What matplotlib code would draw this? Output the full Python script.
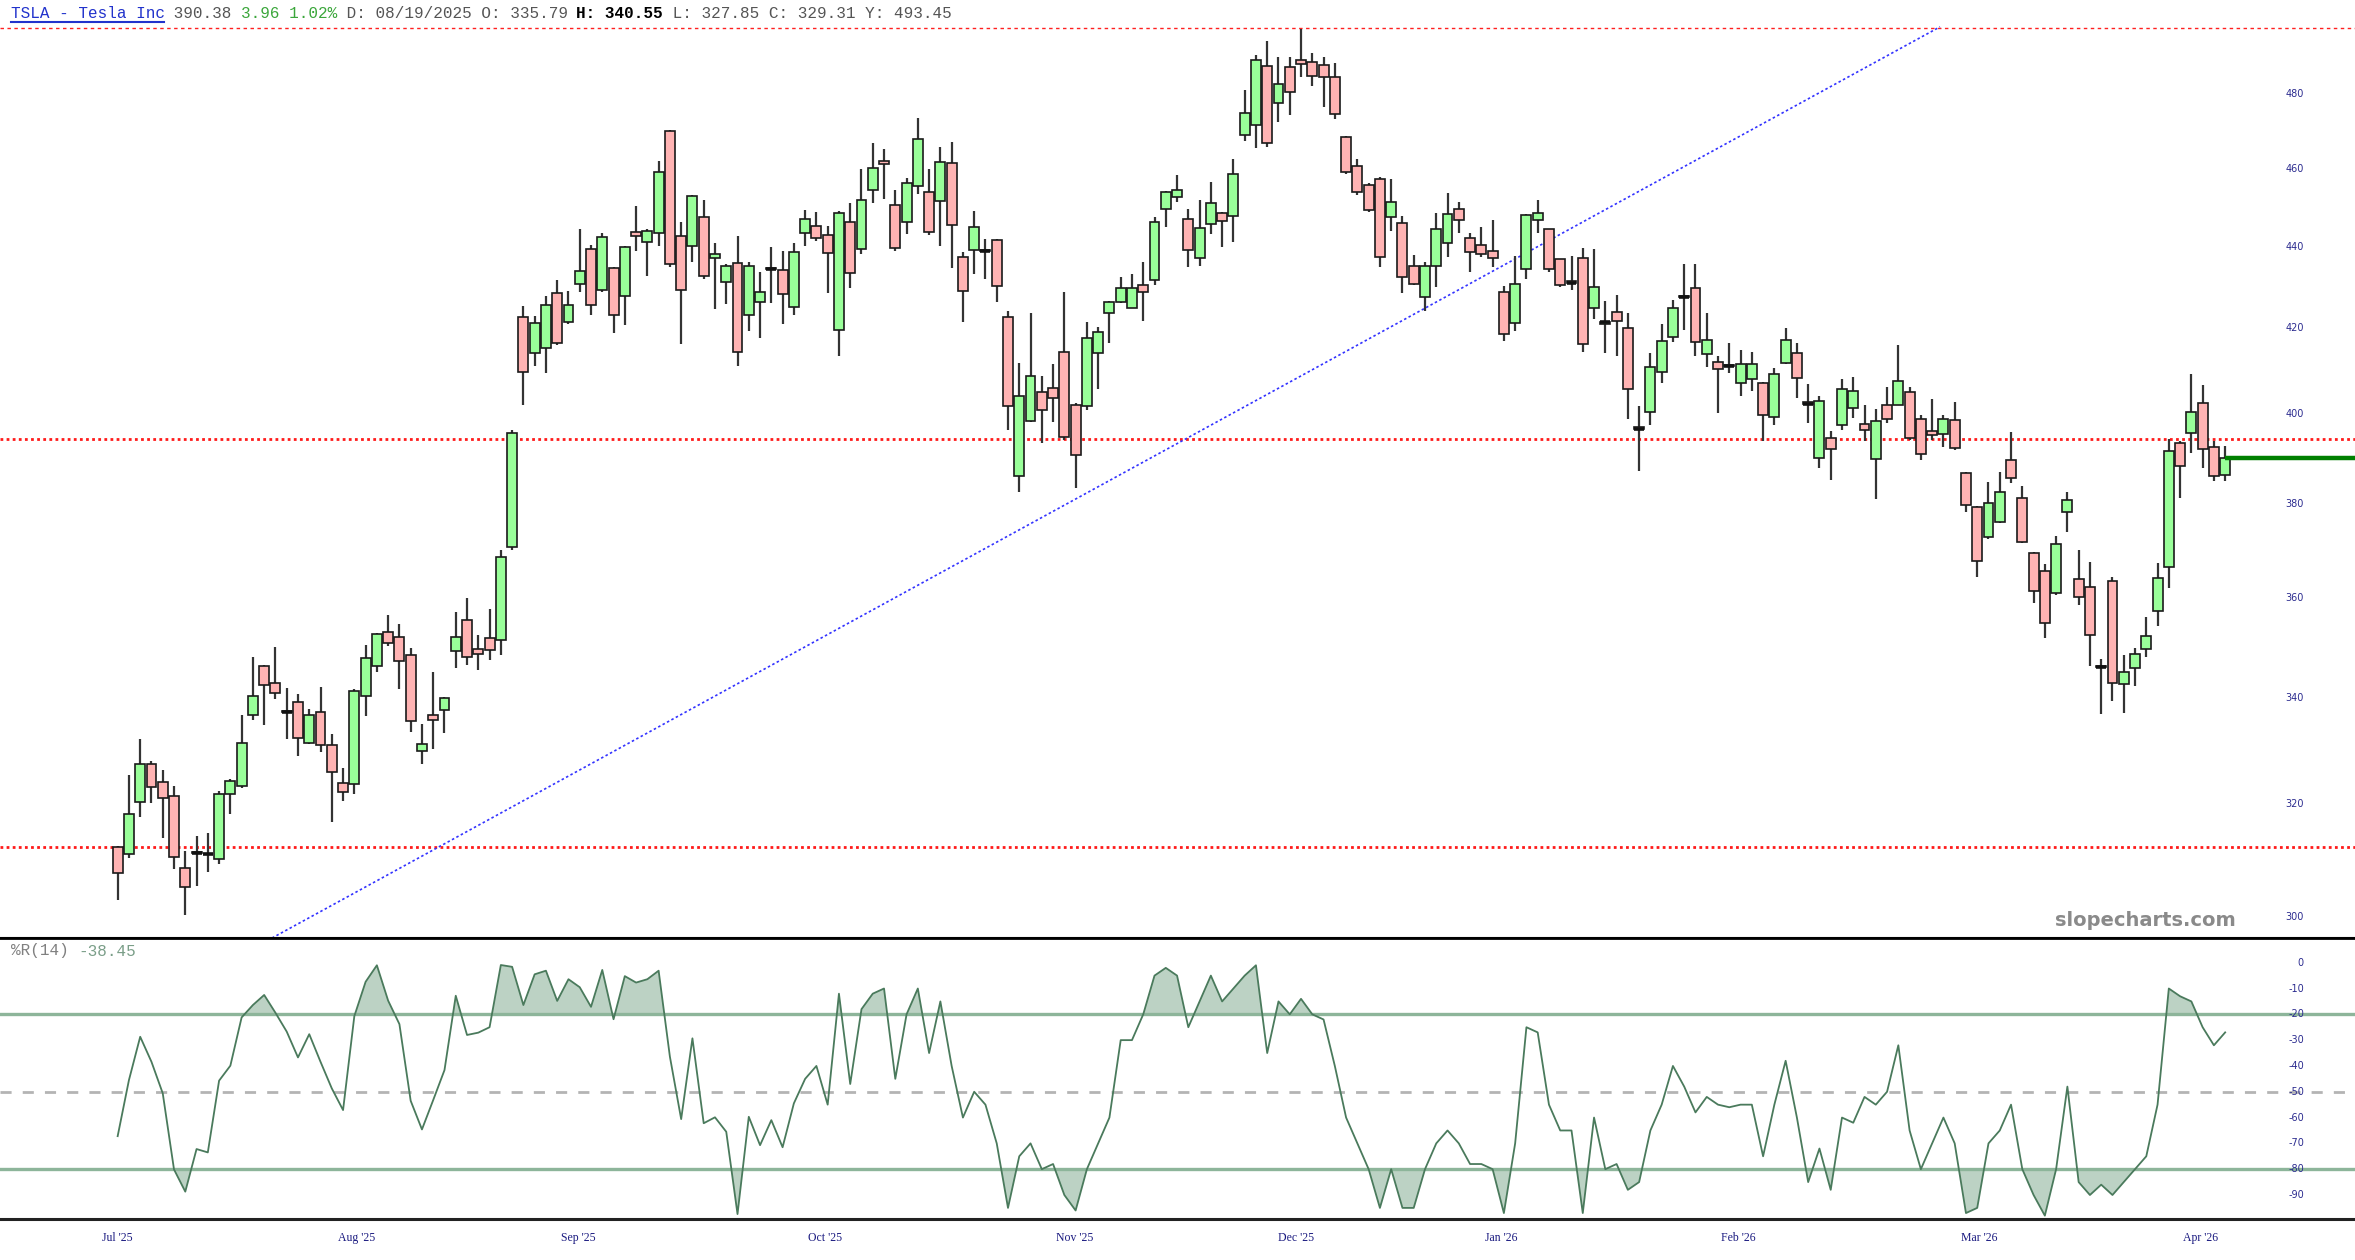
import matplotlib
matplotlib.use("Agg")
import matplotlib.pyplot as plt
from matplotlib.transforms import blended_transform_factory
from matplotlib.lines import Line2D
import numpy as np

# TSLA daily candles (first bar = 07/24/2025)
opens = [312.3, 311.1, 320.5, 327.4, 324.2, 321.6, 308.6, 311.5, 311.1, 310.2,
         321.9, 323.4, 336.7, 346.4, 343.0, 337.6, 339.3, 331.4, 337.4, 331.0,
         324.0, 323.7, 340.5, 346.3, 353.1, 352.1, 348.5, 330.0, 336.8, 337.7,
         349.3, 355.5, 349.8, 352.0, 351.5, 370.6, 422.7, 414.1, 415.3, 428.5,
         421.4, 430.8, 439.5, 429.4, 434.8, 427.9, 443.8, 441.1, 443.4, 470.2,
         442.8, 440.3, 447.5, 437.1, 431.3, 436.0, 423.2, 426.4, 434.6, 434.2,
         425.1, 443.4, 445.3, 443.0, 419.7, 446.4, 439.5, 454.4, 462.2, 450.6,
         446.3, 455.6, 454.0, 451.7, 461.7, 437.4, 439.1, 439.1, 441.7, 422.7,
         386.1, 398.4, 405.0, 405.8, 414.3, 402.1, 401.8, 414.1, 423.6, 426.3,
         425.0, 430.4, 431.7, 449.6, 452.7, 447.1, 437.1, 445.7, 448.5, 447.7,
         469.0, 471.7, 487.8, 477.7, 487.7, 489.5, 488.9, 488.1, 484.7, 468.5,
         460.8, 455.8, 457.5, 447.6, 446.0, 435.3, 427.6, 435.3, 440.9, 449.7,
         442.3, 440.5, 439.0, 428.9, 421.3, 434.4, 446.9, 444.4, 436.9, 431.4,
         437.3, 425.0, 421.0, 423.9, 420.1, 397.0, 400.5, 409.6, 417.8, 427.8,
         429.8, 413.9, 412.1, 411.2, 407.0, 408.1, 407.0, 399.2, 411.8, 414.1,
         402.7, 390.1, 394.6, 397.5, 401.2, 397.6, 389.7, 401.9, 402.1, 405.0,
         398.8, 396.0, 395.3, 398.6, 386.6, 379.3, 372.7, 376.1, 389.5, 381.1,
         369.4, 365.6, 361.1, 378.2, 364.0, 362.4, 346.3, 363.6, 342.8, 345.9,
         349.7, 357.4, 366.5, 393.4, 395.6, 402.4, 392.5, 386.2]
highs = [312.5, 325.5, 332.2, 328.1, 326.4, 323.3, 311.6, 314.3, 314.8, 322.5,
         324.6, 336.8, 348.1, 346.6, 350.1, 342.0, 340.8, 337.9, 342.2, 333.1,
         326.8, 341.8, 350.6, 353.0, 356.5, 354.7, 350.0, 335.1, 345.2, 340.3,
         357.2, 360.0, 352.5, 357.8, 370.0, 396.4, 425.3, 422.9, 427.9, 431.7,
         429.1, 444.6, 440.5, 443.6, 435.0, 440.3, 450.5, 444.5, 462.0, 470.4,
         446.3, 453.1, 452.0, 440.9, 435.8, 442.7, 436.3, 433.7, 440.0, 439.0,
         440.9, 449.4, 448.8, 445.2, 449.0, 451.2, 459.9, 466.8, 465.3, 454.6,
         457.7, 473.5, 459.9, 465.9, 467.1, 438.8, 449.2, 441.9, 442.0, 424.2,
         411.8, 423.6, 408.7, 411.4, 428.7, 402.5, 421.4, 420.3, 426.7, 432.6,
         433.3, 436.2, 447.6, 454.3, 458.5, 449.5, 452.0, 456.5, 448.9, 462.7,
         481.1, 491.0, 494.9, 490.4, 490.4, 498.4, 491.6, 490.4, 488.6, 468.8,
         462.7, 456.2, 458.0, 457.3, 447.9, 437.9, 436.3, 448.7, 453.7, 451.4,
         443.4, 445.0, 446.8, 430.3, 437.7, 448.3, 452.0, 444.6, 437.0, 437.8,
         439.8, 439.4, 426.7, 428.1, 423.6, 401.7, 414.1, 421.0, 426.9, 435.8,
         435.6, 423.7, 413.3, 416.5, 414.9, 414.3, 407.4, 410.5, 420.1, 416.5,
         406.9, 404.1, 396.0, 408.1, 408.5, 401.9, 401.1, 406.2, 416.1, 406.2,
         399.7, 403.3, 399.7, 402.6, 386.8, 379.5, 384.7, 386.8, 395.9, 383.8,
         369.6, 367.0, 373.0, 382.6, 370.0, 367.5, 347.7, 364.3, 348.5, 350.0,
         356.2, 367.4, 394.2, 393.8, 409.1, 406.6, 393.8, 392.6]
lows = [303.0, 310.3, 317.8, 320.3, 313.9, 308.4, 300.4, 305.5, 307.9, 309.3,
        318.3, 323.0, 335.9, 334.8, 339.8, 332.2, 328.9, 331.2, 329.7, 316.8,
        320.7, 321.9, 336.6, 345.1, 350.4, 341.8, 333.5, 327.4, 330.3, 333.3,
        346.0, 346.5, 345.5, 347.5, 348.5, 370.0, 402.1, 411.0, 409.5, 416.1,
        421.0, 428.7, 423.3, 428.7, 418.8, 420.7, 439.0, 432.8, 440.3, 435.0,
        416.2, 436.2, 432.0, 424.7, 425.9, 411.0, 419.3, 417.6, 426.0, 421.0,
        423.3, 440.2, 441.5, 428.5, 413.5, 429.7, 438.2, 451.1, 452.3, 439.0,
        443.2, 453.4, 443.1, 440.3, 434.6, 421.4, 433.1, 431.9, 426.3, 396.4,
        382.5, 398.0, 393.3, 398.1, 394.0, 383.4, 400.8, 405.7, 416.5, 426.0,
        424.8, 421.7, 430.6, 445.0, 451.3, 434.9, 435.3, 443.2, 439.9, 441.3,
        467.3, 465.5, 465.8, 472.6, 474.3, 484.9, 482.4, 476.5, 473.3, 458.8,
        453.3, 448.8, 434.9, 444.1, 428.5, 430.6, 424.1, 430.0, 437.5, 443.6,
        433.8, 437.4, 434.9, 417.0, 419.3, 432.0, 443.6, 433.7, 430.0, 429.4,
        414.3, 422.3, 414.1, 413.3, 398.8, 387.2, 397.4, 407.0, 416.7, 419.7,
        413.5, 410.7, 400.2, 409.3, 404.0, 405.2, 393.9, 397.4, 411.6, 403.5,
        397.9, 387.8, 385.2, 396.4, 399.0, 393.9, 381.0, 397.9, 401.9, 394.0,
        389.5, 394.0, 392.5, 391.9, 378.2, 364.3, 372.3, 375.9, 384.5, 371.5,
        359.1, 351.9, 360.7, 373.8, 358.7, 346.4, 337.0, 339.4, 337.1, 342.3,
        348.1, 354.4, 362.2, 381.3, 391.2, 387.7, 384.9, 384.9]
closes = [307.7, 318.2, 327.4, 323.2, 321.2, 310.6, 305.2, 311.3, 311.0, 321.9,
          324.3, 331.4, 340.5, 342.5, 341.0, 337.4, 332.4, 336.8, 331.1, 325.9,
          322.2, 341.5, 348.0, 352.8, 350.9, 347.4, 335.6, 331.2, 335.8, 340.1,
          352.1, 348.2, 348.8, 349.6, 368.5, 395.6, 409.7, 421.3, 425.5, 416.5,
          425.7, 433.9, 425.5, 442.4, 423.1, 440.0, 442.7, 444.1, 459.2, 435.6,
          429.4, 452.9, 432.8, 438.3, 435.1, 414.4, 435.3, 428.8, 434.4, 428.4,
          438.8, 447.1, 442.2, 438.5, 448.5, 433.4, 452.0, 460.2, 461.2, 439.6,
          456.2, 467.9, 443.8, 461.8, 445.5, 429.1, 444.9, 438.9, 430.3, 401.8,
          404.0, 408.6, 400.9, 403.7, 394.8, 390.7, 417.6, 419.2, 426.3, 429.8,
          429.8, 428.9, 446.3, 454.1, 454.6, 439.2, 444.7, 451.1, 446.5, 458.6,
          474.9, 489.5, 466.9, 482.9, 480.8, 488.4, 485.2, 484.9, 474.7, 459.3,
          454.0, 449.3, 437.5, 451.3, 432.6, 430.8, 435.2, 444.5, 448.4, 446.8,
          438.8, 438.2, 437.1, 418.7, 430.8, 448.1, 448.5, 434.5, 430.4, 431.0,
          416.2, 429.9, 421.4, 421.7, 405.7, 396.6, 410.8, 417.0, 424.8, 427.6,
          416.8, 417.2, 410.4, 411.0, 411.4, 411.6, 399.6, 409.1, 417.1, 408.3,
          402.3, 403.0, 392.0, 405.7, 405.2, 396.3, 398.4, 398.8, 407.5, 394.5,
          390.8, 395.2, 398.8, 392.3, 379.7, 367.7, 380.2, 382.4, 385.5, 371.7,
          361.5, 354.9, 371.3, 380.8, 360.3, 352.6, 346.1, 342.9, 345.2, 348.7,
          352.3, 364.2, 391.6, 388.3, 400.4, 392.1, 386.1, 389.9]

# Williams %R(14)
willr = [-67.2, -45.5, -28.7, -38.4, -50.6, -80.1, -88.7, -72.2, -73.5, -45.7,
         -39.9, -21.2, -16.4, -12.5, -19.4, -26.7, -36.7, -27.7, -38.4, -48.7,
         -57.1, -20.7, -7.4, -1.0, -14.7, -23.8, -53.5, -64.6, -53.2, -41.6,
         -12.8, -28.0, -27.1, -25.0, -0.9, -1.6, -16.4, -4.5, -3.1, -14.8,
         -6.4, -9.5, -17.1, -2.8, -21.9, -5.2, -7.7, -6.4, -3.1, -36.4,
         -60.6, -29.3, -62.2, -59.9, -65.5, -97.4, -59.7, -70.7, -61.0, -71.5,
         -54.5, -45, -40, -55, -12, -47, -18, -12, -10, -45,
         -20, -10, -35, -15, -40, -60, -50, -55, -70, -95,
         -75, -70, -80, -78, -90, -96, -80, -70, -60, -30,
         -30, -20, -5, -2, -5, -25, -15, -5, -15, -10,
         -5, -1, -35, -15, -20, -14, -20, -22, -40, -60,
         -70, -80, -95, -80, -95, -95, -80, -70, -65, -70,
         -78, -78, -80, -97, -70, -25, -27, -55, -65, -65,
         -97, -60, -80, -78, -88, -85, -65, -55, -40, -48,
         -58, -52, -55, -56, -55, -55, -75, -55, -38, -60,
         -85, -72, -88, -60, -62, -52, -55, -50, -32, -65,
         -80, -70, -60, -70, -97, -95, -70, -65, -55, -80,
         -90, -98, -80, -48, -85, -90, -86, -90, -85, -80,
         -75, -55, -10, -13, -15, -25, -32, -27]

month_pos = [0, 21.2, 40.9, 62.8, 84.9, 104.6, 122.8, 143.8, 165.2, 184.8]
month_labels = ["Jul '25", "Aug '25", "Sep '25", "Oct '25", "Nov '25",
                "Dec '25", "Jan '26", "Feb '26", "Mar '26", "Apr '26"]
price_ticks = [300, 320, 340, 360, 380, 400, 420, 440, 460, 480]
willr_ticks = [0, -10, -20, -30, -40, -50, -60, -70, -80, -90]
red_levels = [498.6, 394.3, 312.4]
trend_x = [13.7, 161.7]
trend_y = [296.5, 498.9]

W, H = 2355, 1260
fig = plt.figure(figsize=(W / 100, H / 100), dpi=100)
fig.patch.set_facecolor("white")

ax1 = fig.add_axes([0, 1 - 938 / H, 1, 938 / H])
ax2 = fig.add_axes([0, 1 - 1219 / H, 1, 281 / H], sharex=ax1)

x = np.arange(len(closes))
o = np.array(opens)
c = np.array(closes)
hi = np.array(highs)
lo = np.array(lows)
up = c >= o

# candles
ax1.vlines(x, lo, hi, color="#333333", lw=1.6, zorder=2)
body_lo = np.minimum(o, c)
body_h = np.abs(c - o)
cols = np.where(up, "#99ff99", "#ffb3b3")
ax1.bar(x, body_h, bottom=body_lo, width=0.88, color=cols,
        edgecolor="#1a1a1a", linewidth=1.2, zorder=3)
doji = body_h < 0.6
ax1.hlines(c[doji], x[doji] - 0.44, x[doji] + 0.44, color="#111111", lw=2.6, zorder=4)

ax1.set_yscale("log")
ax1.set_ylim(296.5, 506.6)
ax1.set_xlim(-10.44, 198.52)

# horizontal levels and trendline
ax1.axhline(red_levels[0], color="#ff2020", lw=1.0, ls=(0, (2.5, 2.5)), zorder=1)
for lv in red_levels[1:]:
    ax1.axhline(lv, color="#ff1a1a", lw=2.0, ls=(0, (1, 1.2)), zorder=1)
ax1.plot(trend_x, trend_y, color="#3333ff", lw=1.2, ls=(0, (1.5, 1.5)), zorder=1)
ax1.hlines(c[-1], x[-1], 198.52, color="#008000", lw=3.2, zorder=5)

lab_x = 2304 / W
tr1 = blended_transform_factory(ax1.transAxes, ax1.transData)
for v in price_ticks:
    ax1.text(lab_x, v, str(v), transform=tr1, ha="right", va="center",
             fontsize=7, color="#2b2b8f")

# %R panel
ax2.set_ylim(-99.3, 9.57)
w = np.array(willr)
ax2.fill_between(x, w, -20, where=w > -20, interpolate=True, color="#bcd2c4", lw=0)
ax2.fill_between(x, w, -80, where=w < -80, interpolate=True, color="#bcd2c4", lw=0)
ax2.axhline(-20, color="#8db59a", lw=2.4)
ax2.axhline(-80, color="#8db59a", lw=2.4)
ax2.axhline(-50, color="#b4b4b4", lw=2.0, ls=(0, (4, 4)))
ax2.plot(x, w, color="#4a7a5c", lw=1.3)

tr2 = blended_transform_factory(ax2.transAxes, ax2.transData)
for v in willr_ticks:
    ax2.text(lab_x, v, str(v), transform=tr2, ha="right", va="center",
             fontsize=7, color="#2b2b8f")

trx = blended_transform_factory(ax2.transData, ax2.transAxes)
for p, lab in zip(month_pos, month_labels):
    ax2.text(p, -19 / 281, lab, transform=trx, ha="center", va="center",
             fontsize=8.5, color="#1a1a80", family="Liberation Serif")

for ax in (ax1, ax2):
    ax.set_yticks([])
    ax.set_yticks([], minor=True)
    ax.set_xticks([])
    ax.set_facecolor("white")
    for s in ("left", "right", "top"):
        ax.spines[s].set_visible(False)
ax1.spines["bottom"].set_linewidth(1.5)
ax2.spines["top"].set_visible(True)
ax2.spines["top"].set_linewidth(2.0)
ax2.spines["bottom"].set_linewidth(2.2)
ax2.spines["bottom"].set_color("#222222")

# header text (monospace, laid out by character cells)
fs = 11.5
cw = 0.6 * fs * 100 / 72
x0 = 11
def seg(col, s, color, weight="normal", y=13.5):
    fig.text((x0 + col * cw) / W, 1 - y / H, s, ha="left", va="center",
             fontsize=fs, family="Liberation Mono", color=color, fontweight=weight)

seg(0, "TSLA - Tesla Inc", "#2233cc")
seg(16, " 390.38 ", "#555555")
seg(24, "3.96 1.02%", "#3aa63a")
seg(34, " D: 08/19/2025 O: 335.79 ", "#555555")
seg(59, "H: 340.55", "#000000", "bold")
seg(68, " L: 327.85 C: 329.31 Y: 493.45", "#555555")
fig.add_artist(Line2D([x0 / W, (x0 + 16 * cw) / W], [1 - 21.5 / H, 1 - 21.5 / H],
                      color="#2233cc", lw=1.5))

seg(0, "%R(14)", "#808080", y=951)
seg(7, "-38.45", "#7a9e88", y=951)

fig.text(2145 / W, 1 - 921 / H, "slopecharts.com", ha="center", va="center",
         fontsize=14, fontweight="bold", color="#8a8a8a")

fig.savefig("out.png", dpi=100)
